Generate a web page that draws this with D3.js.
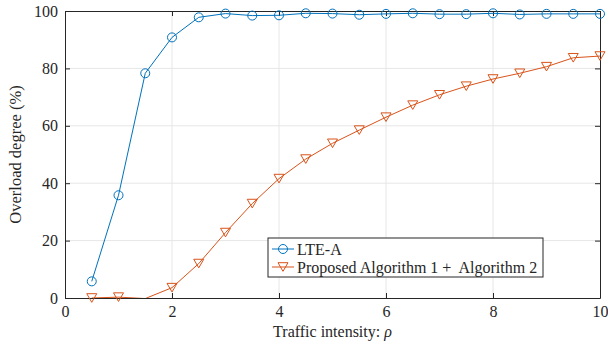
<!DOCTYPE html>
<html>
<head>
<meta charset="utf-8">
<script src="https://cdn.jsdelivr.net/npm/d3@7"></script>
<style>
  body { margin: 0; background: #fff; }
  text { font-family: "Liberation Serif", "Times New Roman", serif; fill: #262626; }
</style>
</head>
<body>
<div id="chart"></div>
<script>
// data
let rho = [0.5, 1, 1.5, 2, 2.5, 3, 3.5, 4, 4.5, 5, 5.5, 6, 6.5, 7, 7.5, 8, 8.5, 9, 9.5, 10];
let lteA = [5.8, 35.8, 78.3, 90.8, 97.8, 99.1, 98.4, 98.5, 99.2, 99.1, 98.7, 99.0, 99.2, 98.9, 98.9, 99.2, 98.8, 99.0, 99.0, 99.0];
let proposed = [0, 0.3, -0.2, 3.6, 12.0, 22.8, 32.9, 41.6, 48.4, 53.9, 58.5, 63.0, 67.2, 70.8, 73.8, 76.3, 78.3, 80.6, 83.7, 84.3];
let xTicks = [0, 2, 4, 6, 8, 10];
let yTicks = [0, 20, 40, 60, 80, 100];
let seriesNames = ["LTE-A", "Proposed Algorithm 1 +\u00a0 Algorithm 2"];

let width = 608, height = 347;
let margin = {top: 11, right: 8, bottom: 49, left: 65};
let plotW = width - margin.left - margin.right;
let plotH = height - margin.top - margin.bottom;

let svg = d3.select("#chart").append("svg")
    .attr("width", width).attr("height", height);

let xScale = d3.scaleLinear().domain([0, 10]).range([margin.left, margin.left + plotW]);
let yScale = d3.scaleLinear().domain([0, 100]).range([margin.top + plotH, margin.top]);

svg.append("defs").append("clipPath").attr("id", "clip")
    .append("rect").attr("x", margin.left).attr("y", margin.top)
    .attr("width", plotW).attr("height", plotH);

// grid
let grid = svg.append("g").attr("stroke", "#e6e6e6").attr("stroke-width", 1);
xTicks.slice(1, -1).forEach(t => {
    grid.append("line").attr("x1", xScale(t)).attr("x2", xScale(t))
        .attr("y1", margin.top).attr("y2", margin.top + plotH);
});
yTicks.slice(1, -1).forEach(t => {
    grid.append("line").attr("y1", yScale(t)).attr("y2", yScale(t))
        .attr("x1", margin.left).attr("x2", margin.left + plotW);
});

// axes (ticks inward, box on)
let tickLen = 5;
let xAxis = d3.axisBottom(xScale).tickValues(xTicks).tickSizeInner(-tickLen).tickSizeOuter(0).tickPadding(8);
let yAxis = d3.axisLeft(yScale).tickValues(yTicks).tickSizeInner(-tickLen).tickSizeOuter(0).tickPadding(7);
let xTop = d3.axisTop(xScale).tickValues(xTicks).tickSizeInner(-tickLen).tickSizeOuter(0).tickFormat("");
let yRight = d3.axisRight(yScale).tickValues(yTicks).tickSizeInner(-tickLen).tickSizeOuter(0).tickFormat("");

function styleAxis(g) {
    g.select(".domain").attr("stroke", "#262626");
    g.selectAll(".tick line").attr("stroke", "#262626");
    g.selectAll(".tick text").attr("fill", "#262626")
        .style("font-family", "'Liberation Serif', serif").style("font-size", "16px");
}
svg.append("g").attr("transform", "translate(0," + (margin.top + plotH) + ")").call(xAxis).call(styleAxis);
svg.append("g").attr("transform", "translate(" + margin.left + ",0)").call(yAxis).call(styleAxis);
svg.append("g").attr("transform", "translate(0," + margin.top + ")").call(xTop).call(styleAxis);
svg.append("g").attr("transform", "translate(" + (margin.left + plotW) + ",0)").call(yRight).call(styleAxis);

// axis labels
svg.append("text").attr("x", xScale(5)).attr("y", 337)
    .attr("text-anchor", "middle").style("font-size", "16px")
    .html("Traffic intensity: <tspan font-style='italic'>\u03c1</tspan>");
svg.append("text").attr("transform", "translate(21," + (margin.top + plotH / 2) + ") rotate(-90)")
    .attr("text-anchor", "middle").style("font-size", "16.5px")
    .text("Overload degree (%)");

// series
let blue = "#0072BD", red = "#D95319";
let series = [
    {name: seriesNames[0], values: lteA, color: blue, marker: "circle"},
    {name: seriesNames[1], values: proposed, color: red, marker: "tri"}
];
let line = d3.line().x((d, i) => xScale(rho[i])).y(d => yScale(d));
let triPath = "M-5,-4.3L5,-4.3L0,4.3Z";

series.forEach(s => {
    svg.append("path").datum(s.values).attr("clip-path", "url(#clip)")
        .attr("d", line).attr("fill", "none").attr("stroke", s.color).attr("stroke-width", 1);
    let pts = s.values.map((v, i) => ({x: rho[i], y: v})).filter(p => p.y >= 0 && p.y <= 100);
    let g = svg.append("g");
    if (s.marker == "circle") {
        g.selectAll("circle").data(pts).enter().append("circle")
            .attr("cx", d => xScale(d.x)).attr("cy", d => yScale(d.y)).attr("r", 4.5)
            .attr("fill", "none").attr("stroke", s.color).attr("stroke-width", 1);
    } else {
        g.selectAll("path").data(pts).enter().append("path")
            .attr("transform", d => "translate(" + xScale(d.x) + "," + yScale(d.y) + ")")
            .attr("d", triPath).attr("fill", "none").attr("stroke", s.color).attr("stroke-width", 1);
    }
});

// legend
let lx = 268, ly = 238, lw = 275, lh = 39;
let legend = svg.append("g");
legend.append("rect").attr("x", lx).attr("y", ly).attr("width", lw).attr("height", lh)
    .attr("fill", "#fff").attr("stroke", "#262626").attr("stroke-width", 1);
series.forEach((s, i) => {
    let cy = ly + 11 + i * 18;
    legend.append("line").attr("x1", lx + 4).attr("x2", lx + 26).attr("y1", cy).attr("y2", cy)
        .attr("stroke", s.color).attr("stroke-width", 1);
    if (s.marker == "circle") {
        legend.append("circle").attr("cx", lx + 15).attr("cy", cy).attr("r", 4.5)
            .attr("fill", "none").attr("stroke", s.color);
    } else {
        legend.append("path").attr("transform", "translate(" + (lx + 15) + "," + cy + ")")
            .attr("d", triPath).attr("fill", "none").attr("stroke", s.color);
    }
    legend.append("text").attr("x", lx + 29).attr("y", cy + 5.5)
        .style("font-size", "16px").text(s.name);
});
</script>
</body>
</html>
